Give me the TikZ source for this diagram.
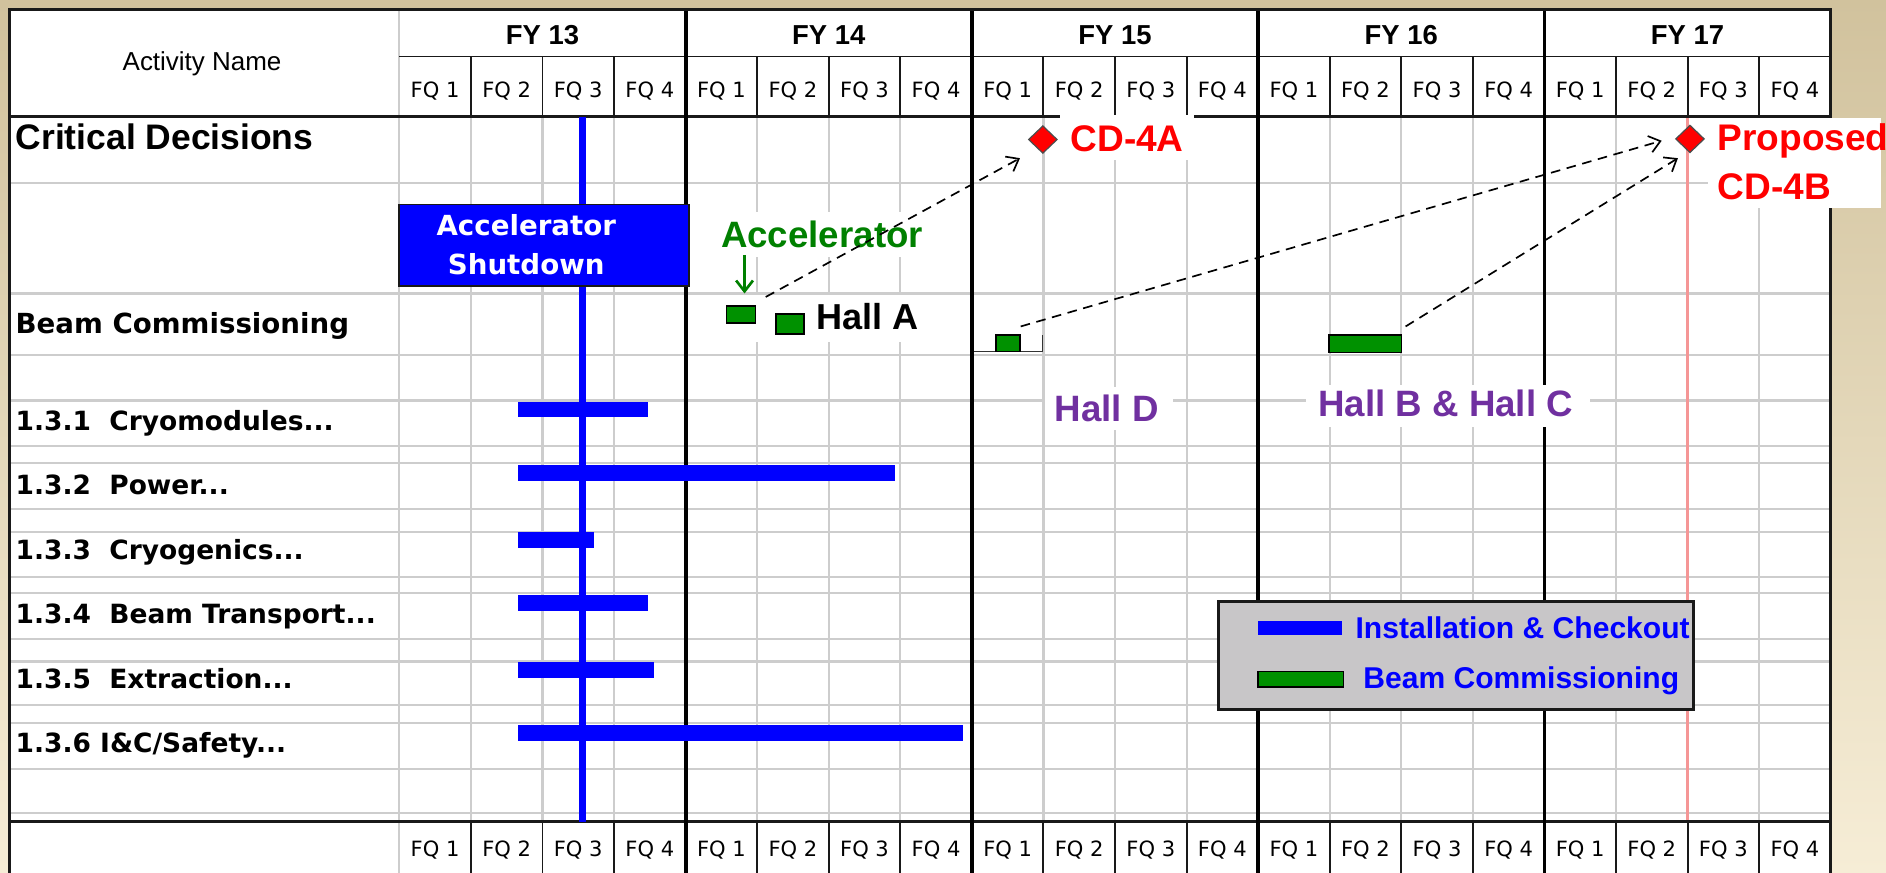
\documentclass[tikz,border=0pt]{standalone}
\usepackage{fontspec}
\setmainfont{Liberation Sans}
\newfontfamily\dvs{DejaVu Sans}
\usetikzlibrary{arrows.meta,shapes.geometric}
\newcommand{\fsz}[1]{\fontsize{#1}{#1}\selectfont}
\definecolor{bgtop}{RGB}{209,194,157}
\definecolor{bgbot}{RGB}{246,237,214}
\definecolor{gridgray}{RGB}{205,205,205}
\definecolor{pblue}{RGB}{0,0,255}
\definecolor{pgreen}{RGB}{0,145,0}
\definecolor{tgreen}{RGB}{0,128,0}
\definecolor{pred}{RGB}{255,0,0}
\definecolor{ppurple}{RGB}{112,48,160}
\definecolor{lgray}{RGB}{200,198,200}
\definecolor{redline}{RGB}{245,150,150}
\definecolor{frame}{RGB}{25,25,25}
\begin{document}
\begin{tikzpicture}[x=1pt,y=-1pt,
  gridl/.style={gridgray,line width=1.8pt},
  thinblk/.style={frame,line width=1.6pt},
  fyline/.style={black,line width=3.2pt},
  txt/.style={inner sep=0pt,outer sep=0pt,anchor=base west},
  ctxt/.style={inner sep=0pt,outer sep=0pt,anchor=base},
  fq/.style={ctxt,font=\dvs\fsz{17.5}},
  fy/.style={ctxt,font=\bfseries\fsz{22.8}},
  task/.style={txt,font=\dvs\bfseries\fsz{22}},
  gbar/.style={rectangle,draw=black,fill=pgreen,line width=1.2pt,inner sep=0pt},
  cdmark/.style={diamond,fill=pred,draw=black!70,line width=1pt,inner sep=0pt,minimum width=24pt,minimum height=23pt},
  dasharr/.style={black,line width=1.4pt,dash pattern=on 8pt off 5.5pt,-{Straight Barb[length=9pt,width=14pt]}},
  bigred/.style={txt,text=pred,font=\bfseries\fsz{30.8}},
  hall/.style={txt,text=ppurple,font=\bfseries\fsz{30.5}},
  legtxt/.style={txt,text=pblue,font=\bfseries\fsz{25}},
]
% background and table
\shade[top color=bgtop,bottom color=bgbot] (0,0) rectangle (1568,725);
\useasboundingbox (0,0) rectangle (1568,725);
\fill[white] (8,8) rectangle (1522,745);
% grid
\foreach \i in {0,...,20} \draw[gridl] ({332+59.5*\i},97) -- ({332+59.5*\i},683);
\draw[gridl] (332,8) -- (332,97);
\draw[gridl] (332,683) -- (332,745);
\foreach \y in {152,244,295,333,371,385,423,442,480,493,531,550,586,601,639,676}
  \draw[gridl] (8,\y) -- (1522,\y);
% red milestone line
\draw[redline,line width=2pt] (1403,97) -- (1403,683);
% header lines
\draw[thinblk] (332,47) -- (1522,47);
\foreach \i in {1,2,3,5,6,7,9,10,11,13,14,15,17,18,19} {
  \draw[thinblk] ({332+59.5*\i},47) -- ({332+59.5*\i},97);
  \draw[thinblk] ({332+59.5*\i},683) -- ({332+59.5*\i},745);
}
\draw[frame,line width=2.4pt] (8,97) -- (1522,97);
\draw[frame,line width=2.4pt] (8,683) -- (1522,683);
\foreach \i in {4,8,12,16} \draw[fyline] ({332+59.5*\i},8) -- ({332+59.5*\i},745);
\draw[frame,line width=2.6pt] (8,745) -- (8,8) -- (1522,8) -- (1522,745);
% installation bars
\draw[pblue,line width=5.5pt] (484.5,97) -- (484.5,683);
\foreach \xe/\ya in {538.6/334,743.9/386.6,494/442.5,538.6/494.7,543.4/550.7,801/602.8}
  \fill[pblue] (430.5,\ya) rectangle (\xe,{\ya+13});
% accelerator shutdown
\node[rectangle,draw=frame,fill=pblue,line width=1.6pt,minimum width=241pt,minimum height=68pt,inner sep=0pt] (shutbox) at (452.5,204) {};
\node[ctxt,text=white,font=\dvs\bfseries\fsz{23}] (shut1) at (437.5,196) {Accelerator};
\node[ctxt,text=white,font=\dvs\bfseries\fsz{23}] (shut2) at (437.5,228.6) {Shutdown};
% white label backgrounds
\fill[white] (573,245) rectangle (776,284);
\fill[white] (597,176) rectangle (772,214);
\fill[white] (881,95.5) rectangle (993,133);
\fill[white] (869,321.5) rectangle (975,357.5);
\fill[white] (1086,320) rectangle (1322,355);
\fill[white] (1420,98.4) rectangle (1564,173);
% beam commissioning bars
\fill[white] (810,278.5) rectangle (866.5,292.4);
\draw[black!80,line width=1pt] (810,292.4) -- (866.5,292.4) -- (866.5,278.5);
\node[gbar,minimum width=20pt,minimum height=13.9pt] (hallDg) at (838,285.45) {};
\node[gbar,minimum width=24pt,minimum height=14pt] (hallA1) at (616,261.5) {};
\node[gbar,minimum width=23.6pt,minimum height=16.6pt] (hallA2) at (656.8,269.5) {};
\node[gbar,minimum width=60pt,minimum height=14.5pt] (hallBC) at (1135,285.75) {};
% legend
\node[rectangle,draw=frame,fill=lgray,line width=2pt,minimum width=395pt,minimum height=90pt,inner sep=0pt] (legend) at (1210.5,545) {};
\fill[pblue] (1046,516) rectangle (1116,528);
\draw[black,fill=pgreen,line width=1.2pt] (1046,558.5) rectangle (1117,571);
\node[legtxt] (leg1) at (1127,530.6) {Installation \& Checkout};
\node[legtxt] (leg2) at (1133.5,572.5) {Beam Commissioning};
% header texts
\node[ctxt,font=\fsz{21.6}] (actname) at (168,58.8) {Activity Name};
\foreach \n/\x in {13/451,14/689,15/927,16/1165,17/1403}
  \node[fy] (fy\n) at (\x,37.4) {FY \n};
\foreach \i in {0,...,19} {
  \pgfmathtruncatemacro{\q}{mod(\i,4)+1}
  \node[fq] (fqt\i) at ({361.75+59.5*\i},81) {FQ \q};
  \node[fq] (fqb\i) at ({361.75+59.5*\i},712) {FQ \q};
}
% row labels
\node[txt,font=\bfseries\fsz{29.5}] (critlabel) at (13,124.7) {Critical Decisions};
\node[txt,font=\dvs\bfseries\fsz{23}] (bclabel) at (13,277) {Beam Commissioning};
\node[task] (t1) at (13,357.5) {1.3.1\ \ Cryomodules...};
\node[task] (t2) at (13,411.2) {1.3.2\ \ Power...};
\node[task] (t3) at (13,464.9) {1.3.3\ \ Cryogenics...};
\node[task] (t4) at (13,518.6) {1.3.4\ \ Beam Transport...};
\node[task] (t5) at (13,572.3) {1.3.5\ \ Extraction...};
\node[task] (t6) at (13,626) {1.3.6 I\&C/Safety...};
% annotations
\node[txt,text=tgreen,font=\bfseries\fsz{30.5}] (acclabel) at (599.5,206) {Accelerator};
\node[txt,font=\bfseries\fsz{30}] (hallAlabel) at (678.5,274) {Hall A};
\node[bigred] (cd4alabel) at (890,126) {CD-4A};
\node[bigred] (prop1) at (1428,125.5) {Proposed};
\node[bigred] (prop2) at (1428,166) {CD-4B};
\node[hall] (halld) at (877,350.6) {Hall D};
\node[hall] (hallbc) at (1096,346.5) {Hall B \& Hall C};
% arrows
\coordinate (gstart) at (619,212);
\coordinate (gtip) at (619,244);
\draw[tgreen,line width=2.2pt,-{Straight Barb[length=9pt,width=14pt]}] (gstart) -- (gtip);
\coordinate (tipA) at (848,131.5);
\coordinate (tipD) at (1381.5,117);
\coordinate (tipBC) at (1395,131.5);
\draw[dasharr] ([xshift=8pt,yshift=7pt]hallA1.north east) -- (tipA);
\draw[dasharr] ([yshift=6.5pt]hallDg.north east) -- (tipD);
\draw[dasharr] ([xshift=3pt,yshift=6.5pt]hallBC.north east) -- (tipBC);
% milestones
\node[cdmark] (cd4a) at (867,116) {};
\node[cdmark] (cd4b) at (1405,115.5) {};
\end{tikzpicture}
\end{document}
